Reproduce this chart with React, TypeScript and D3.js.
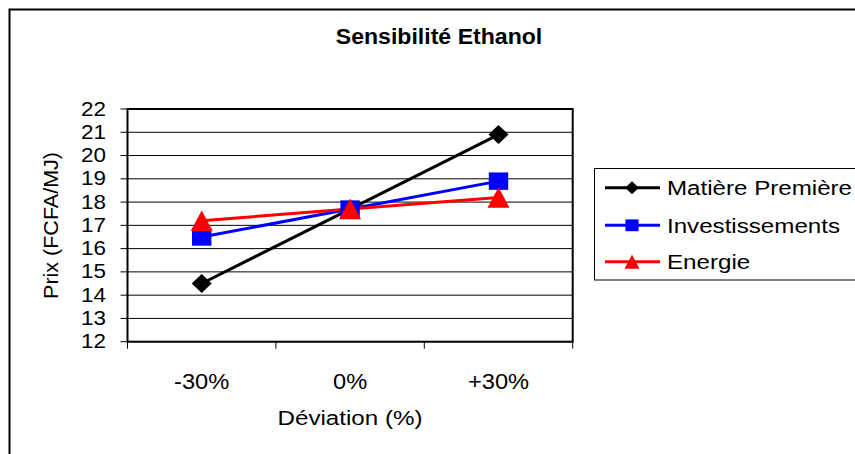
import React from "react";
import * as d3 from "d3";

const categories = ["-30%", "0%", "+30%"];
const seriesNames = ["Matière Première", "Investissements", "Energie"];
const matiere = [14.5, 17.7, 20.9];
const investissements = [16.5, 17.7, 18.9];
const energie = [17.2, 17.7, 18.2];
const yTicks = [12, 13, 14, 15, 16, 17, 18, 19, 20, 21, 22];
const colors = ["#000000", "#0000FF", "#FF0000"];
const shapes = ["diamond", "square", "triangle"];

const FONT = "'Liberation Sans', Arial, Helvetica, sans-serif";

function markerPath(shape: string, cx: number, cy: number, s: number) {
  const p = d3.path();
  if (shape === "diamond") {
    const hw = 10 * s, hh = 9.5 * s;
    p.moveTo(cx, cy - hh);
    p.lineTo(cx + hw, cy);
    p.lineTo(cx, cy + hh);
    p.lineTo(cx - hw, cy);
    p.closePath();
  } else if (shape === "square") {
    const hw = 9.7 * s, hh = 8.7 * s;
    p.rect(cx - hw, cy - hh, 2 * hw, 2 * hh);
  } else {
    const hw = 11 * s, hh = 10.3 * s;
    p.moveTo(cx, cy - hh);
    p.lineTo(cx + hw, cy + hh);
    p.lineTo(cx - hw, cy + hh);
    p.closePath();
  }
  return p.toString();
}

function T(props: any) {
  const { x, y, sx = 1.12, size, anchor = "middle", weight = "normal", rotate = 0, children } = props;
  return (
    <text
      transform={`translate(${x},${y}) rotate(${rotate}) scale(${sx},1)`}
      textAnchor={anchor}
      fontFamily={FONT}
      fontSize={size}
      fontWeight={weight}
      fill="#000"
    >
      {children}
    </text>
  );
}

export default function App() {
  const W = 855, H = 454;
  const left = 127.5, right = 572.7, top = 109, bottom = 341.7;
  const x = d3.scaleBand<string>().domain(categories).range([left, right]);
  const y = d3.scaleLinear().domain([12, 22]).range([bottom, top]);
  const cx = (c: string) => (x(c) as number) + x.bandwidth() / 2;
  const data = [matiere, investissements, energie];
  const line = d3
    .line<number>()
    .x((_, i) => cx(categories[i]))
    .y((v) => y(v));
  const xTickPos = [...categories.map((c) => x(c) as number), right];
  const legendRows = [187.7, 225.3, 261.7];

  return (
    <svg width={W} height={H} style={{ position: "absolute", left: 0, top: 0, background: "#fff" }}>
      <rect x={0} y={0} width={W} height={H} fill="#fff" />
      {/* outer border */}
      <rect x={9.5} y={9.5} width={W + 20} height={H + 20} fill="none" stroke="#000" strokeWidth={2} />
      <T x={439} y={44} size={22} weight="bold" sx={1.05}>Sensibilité Ethanol</T>

      {/* gridlines */}
      {yTicks.map((t) => (
        <line key={"g" + t} x1={left} x2={right} y1={y(t)} y2={y(t)} stroke="#000" strokeWidth={1} />
      ))}
      {/* y ticks */}
      {yTicks.map((t) => (
        <line key={"yt" + t} x1={left - 7} x2={left} y1={y(t)} y2={y(t)} stroke="#000" strokeWidth={1} />
      ))}
      {yTicks.map((t) => (
        <T key={"yl" + t} x={106} y={y(t) + 6.5} size={19.5} anchor="end" sx={1.15}>
          {String(t)}
        </T>
      ))}
      {/* x ticks */}
      {xTickPos.map((p, i) => (
        <line key={"xt" + i} x1={p} x2={p} y1={bottom} y2={bottom + 7} stroke="#000" strokeWidth={1} />
      ))}
      {categories.map((c) => (
        <T key={"xl" + c} x={cx(c)} y={388.5} size={21.5} sx={1.1}>
          {c}
        </T>
      ))}
      {/* plot border */}
      <rect x={left} y={top} width={right - left} height={bottom - top} fill="none" stroke="#000" strokeWidth={2} />

      {/* axis titles */}
      <T x={350} y={425} size={21} sx={1.15}>Déviation (%)</T>
      <T x={58} y={225.5} size={20.5} rotate={-90} sx={1.05}>Prix (FCFA/MJ)</T>

      {/* series */}
      {data.map((vals, si) => (
        <g key={"s" + si}>
          <path d={line(vals) as string} fill="none" stroke={colors[si]} strokeWidth={3} />
        </g>
      ))}
      {data.map((vals, si) => (
        <g key={"m" + si}>
          {vals.map((v, i) => (
            <path key={i} d={markerPath(shapes[si], cx(categories[i]), y(v), 1)} fill={colors[si]} />
          ))}
        </g>
      ))}

      {/* legend */}
      <rect x={594.5} y={168.5} width={300} height={111.5} fill="#fff" stroke="#000" strokeWidth={1} />
      {seriesNames.map((n, i) => (
        <g key={"lg" + i}>
          <line x1={605} x2={660} y1={legendRows[i]} y2={legendRows[i]} stroke={colors[i]} strokeWidth={3} />
          <path d={markerPath(shapes[i], 632, legendRows[i], 0.68)} fill={colors[i]} />
          <T x={667} y={legendRows[i] + 7.5} size={21} anchor="start" sx={1.15}>
            {n}
          </T>
        </g>
      ))}
    </svg>
  );
}
